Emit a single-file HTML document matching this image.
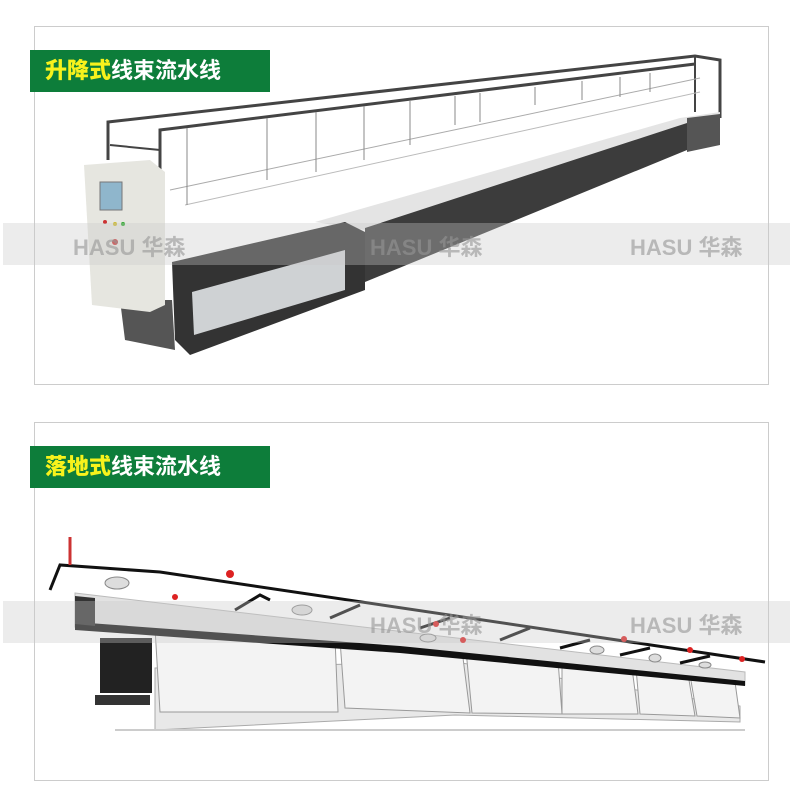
<!DOCTYPE html>
<html><head><meta charset="utf-8"><style>
body{margin:0;width:790px;height:796px;background:#fff;overflow:hidden;position:relative;font-family:"Liberation Sans","Noto Sans CJK SC",sans-serif}
.box{position:absolute;left:34px;width:735px;height:359px;border:1px solid #ccc;box-sizing:border-box}
.lab{position:absolute;left:30px;width:240px;height:42px;background:#0d7d3a;color:#fff;font-size:22px;line-height:42px;padding-left:15px;box-sizing:border-box;font-weight:bold}
.lab b{color:#f7f21c}
.wm{position:absolute;left:3px;width:787px;height:42px;background:rgba(200,200,200,0.35)}
.wt{position:absolute;color:rgba(150,150,150,0.6);font-size:22px;font-weight:bold}
svg{position:absolute;left:0;top:0}
</style></head><body>
<div class="box" style="top:26px"></div>
<div class="box" style="top:422px"></div>
<svg width="790" height="796">
<!-- top machine frame -->
<polyline points="108,160 108,122 695,56 720,60 720,118" fill="none" stroke="#444" stroke-width="3"/>
<polyline points="160,235 160,130 695,64" fill="none" stroke="#444" stroke-width="3"/>
<line x1="695" y1="56" x2="695" y2="112" stroke="#444" stroke-width="2"/>
<line x1="110" y1="145" x2="160" y2="150" stroke="#444" stroke-width="2"/>
<line x1="170" y1="190" x2="700" y2="78" stroke="#aaa" stroke-width="1"/>
<line x1="185" y1="205" x2="700" y2="92" stroke="#bbb" stroke-width="1"/>
<g stroke="#888" stroke-width="1">
<line x1="187" y1="128" x2="187" y2="205"/><line x1="267" y1="118" x2="267" y2="180"/><line x1="316" y1="112" x2="316" y2="172"/><line x1="364" y1="106" x2="364" y2="160"/><line x1="410" y1="101" x2="410" y2="145"/><line x1="455" y1="96" x2="455" y2="125"/><line x1="480" y1="93" x2="480" y2="122"/><line x1="535" y1="87" x2="535" y2="105"/><line x1="582" y1="81" x2="582" y2="100"/><line x1="620" y1="77" x2="620" y2="97"/><line x1="650" y1="73" x2="650" y2="92"/>
</g>
<!-- table -->
<polygon points="315,222 680,118 720,112 720,118 365,230" fill="#e4e4e4"/>
<polygon points="365,228 687,123 687,150 365,282" fill="#3c3c3c"/>
<polygon points="687,118 720,114 720,145 687,152" fill="#555"/>
<polygon points="172,262 345,222 365,232 365,290 190,355 175,340" fill="#333"/>
<polygon points="192,292 345,250 345,290 194,335" fill="#cfd2d4"/>
<polygon points="120,300 172,300 175,350 125,340" fill="#555"/>
<!-- cabinet -->
<polygon points="84,165 150,160 165,172 165,305 150,312 92,305" fill="#e6e6e0"/>
<rect x="100" y="182" width="22" height="28" fill="#8fb6cc" stroke="#777"/>
<g fill="#c33"><circle cx="105" cy="222" r="2"/><circle cx="115" cy="224" r="2" fill="#cb3"/><circle cx="123" cy="224" r="2" fill="#3a3"/><circle cx="115" cy="242" r="3"/></g>
<!-- bottom machine panels -->
<polygon points="155,668 455,662 740,706 740,722 455,715 155,730" fill="#e8e8e8" stroke="#aaa"/>
<polygon points="155,628 335,638 338,712 160,712" fill="#f3f3f3" stroke="#999"/>
<polygon points="340,640 462,650 470,713 345,708" fill="#f3f3f3" stroke="#999"/>
<polygon points="466,650 558,660 562,714 472,713" fill="#f3f3f3" stroke="#999"/>
<polygon points="562,660 632,668 638,714 562,714" fill="#f3f3f3" stroke="#999"/>
<polygon points="636,668 688,674 695,716 640,714" fill="#f3f3f3" stroke="#999"/>
<polygon points="690,675 735,682 740,718 697,716" fill="#f3f3f3" stroke="#999"/>
<!-- silver bar -->
<polygon points="75,593 745,672 745,685 400,650 75,627" fill="#e2e2e2" stroke="#bbb"/>
<polygon points="75,622 400,646 745,681 745,686 400,653 75,630" fill="#111"/>
<polygon points="75,596 95,598 95,626 75,624" fill="#333"/>
<polyline points="50,590 60,565 160,572 765,662" fill="none" stroke="#111" stroke-width="3"/>
<g stroke="#111" stroke-width="3" fill="none"><polyline points="235,610 260,595 270,600"/><polyline points="330,618 360,605"/><polyline points="420,628 450,618"/><polyline points="500,640 530,628"/><polyline points="560,648 590,640"/><polyline points="620,655 650,648"/><polyline points="680,663 710,656"/></g>
<rect x="100" y="638" width="52" height="55" fill="#222"/>
<rect x="95" y="695" width="55" height="10" fill="#333"/>
<line x1="70" y1="537" x2="70" y2="565" stroke="#c33" stroke-width="3"/>
<g fill="#d22"><circle cx="230" cy="574" r="4"/><circle cx="175" cy="597" r="3"/><circle cx="436" cy="624" r="3"/><circle cx="463" cy="640" r="3"/><circle cx="624" cy="639" r="3"/><circle cx="690" cy="650" r="3"/><circle cx="742" cy="659" r="3"/></g>
<g fill="#ddd" stroke="#888"><ellipse cx="117" cy="583" rx="12" ry="6"/><ellipse cx="302" cy="610" rx="10" ry="5"/><ellipse cx="428" cy="638" rx="8" ry="4"/><ellipse cx="597" cy="650" rx="7" ry="4"/><ellipse cx="655" cy="658" rx="6" ry="4"/><ellipse cx="705" cy="665" rx="6" ry="3"/></g>
<line x1="115" y1="730" x2="745" y2="730" stroke="#ccc" stroke-width="2"/>
</svg>
<div class="wm" style="top:223px"></div>
<div class="wt" style="left:73px;top:230px">HASU 华森</div>
<div class="wt" style="left:370px;top:230px">HASU 华森</div>
<div class="wt" style="left:630px;top:230px">HASU 华森</div>
<div class="wm" style="top:601px"></div>
<div class="wt" style="left:370px;top:608px">HASU 华森</div>
<div class="wt" style="left:630px;top:608px">HASU 华森</div>
<div class="lab" style="top:50px"><b>升降式</b>线束流水线</div>
<div class="lab" style="top:446px"><b>落地式</b>线束流水线</div>
</body></html>
